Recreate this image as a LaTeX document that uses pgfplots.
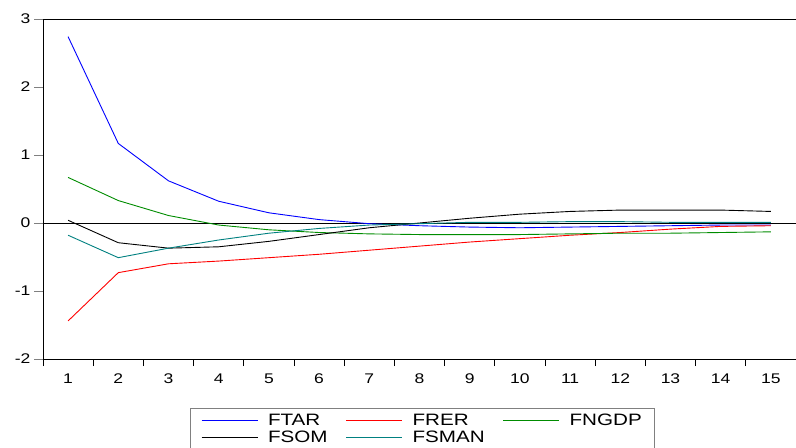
\documentclass[border=0pt]{standalone}
\usepackage{fontspec}
\setmainfont{Liberation Sans}[FakeStretch=1.25]
\usepackage{pgfplots}
\pgfplotsset{compat=1.18}
\definecolor{fteal}{RGB}{0,128,128}
\definecolor{fgreen}{RGB}{0,140,0}

\begin{document}
\begin{tikzpicture}
  \clip (0,0) rectangle (796bp,448bp);
  \begin{axis}[
      at={(43bp,89bp)}, anchor=south west,
      scale only axis,
      width=756bp, height=340bp,
      xmin=0.5, xmax=15.56,
      ymin=-2, ymax=3,
      xtick={1,...,15},
      ytick={-2,-1,0,1,2,3},
      minor xtick={0.5,1.5,...,14.5},
      tick align=outside,
      major tick length=9bp,
      minor tick length=7bp,
      x tick style={draw=none},
      minor x tick style={draw=black, line width=0.9bp},
      y tick style={draw=gray, line width=0.9bp},
      xtick pos=bottom, ytick pos=left,
      axis line style={line width=1bp},
      tick label style={font=\fontsize{14bp}{16bp}\selectfont},
      /pgf/number format/assume math mode=true,
      xticklabel style={yshift=-2bp},
      legend columns=3,
      legend style={at={(axis description cs:0.194,-0.144)}, anchor=north west,
        draw=gray, line width=0.8bp, inner xsep=11bp, inner ysep=4bp,
        font=\fontsize{16.5bp}{18bp}\selectfont,
        row sep=0bp,
        /tikz/every even column/.append style={column sep=16bp}},
      legend image code/.code={%
        \draw[#1, line width=1bp] (0bp,0bp) -- (56bp,0bp);
        \path (64bp,0bp);},
      legend cell align=left,
      every axis plot/.append style={line width=0.9bp},
    ]
    \draw[black, line width=0.9bp] (axis cs:0.5,0) -- (axis cs:15.6,0);
    \addplot[blue] coordinates {
      (1,2.74) (2,1.17) (3,0.62) (4,0.32) (5,0.15) (6,0.05) (7,-0.01) (8,-0.04)
      (9,-0.06) (10,-0.07) (11,-0.06) (12,-0.05) (13,-0.04) (14,-0.03) (15,-0.03)};
    \addlegendentry{FTAR}
    \addplot[red] coordinates {
      (1,-1.44) (2,-0.73) (3,-0.60) (4,-0.56) (5,-0.51) (6,-0.46) (7,-0.40) (8,-0.34)
      (9,-0.28) (10,-0.23) (11,-0.18) (12,-0.14) (13,-0.09) (14,-0.05) (15,-0.04)};
    \addlegendentry{FRER}
    \addplot[fgreen] coordinates {
      (1,0.67) (2,0.33) (3,0.11) (4,-0.03) (5,-0.10) (6,-0.14) (7,-0.16) (8,-0.17)
      (9,-0.17) (10,-0.17) (11,-0.16) (12,-0.15) (13,-0.15) (14,-0.14) (15,-0.13)};
    \addlegendentry{FNGDP}
    \addplot[black] coordinates {
      (1,0.04) (2,-0.29) (3,-0.37) (4,-0.35) (5,-0.27) (6,-0.17) (7,-0.07) (8,0.00)
      (9,0.07) (10,0.13) (11,0.17) (12,0.19) (13,0.19) (14,0.19) (15,0.17)};
    \addlegendentry{FSOM}
    \addplot[fteal] coordinates {
      (1,-0.18) (2,-0.51) (3,-0.37) (4,-0.25) (5,-0.15) (6,-0.08) (7,-0.03) (8,-0.01)
      (9,0.01) (10,0.01) (11,0.02) (12,0.02) (13,0.01) (14,0.01) (15,0.01)};
    \addlegendentry{FSMAN}
  \end{axis}
\end{tikzpicture}
\end{document}
